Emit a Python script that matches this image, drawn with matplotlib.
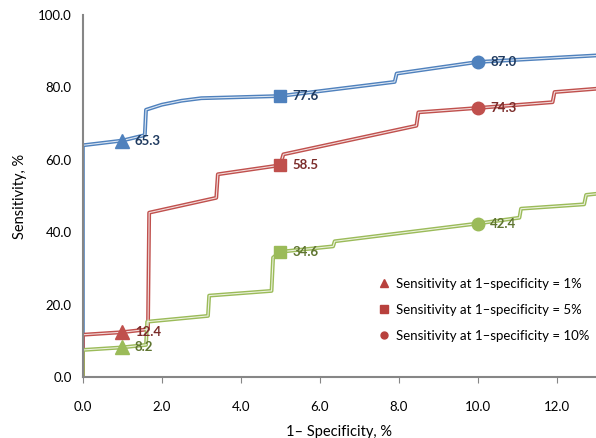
import matplotlib.pyplot as plt
from matplotlib.lines import Line2D

plt.rcParams['font.family'] = ['Lato', 'DejaVu Sans']

# ROC curves (partial, 1-specificity 0..13 %)
blue_x = [0, 0, 1, 1.57, 1.6, 2.0, 2.5, 3.0, 5.0, 7.9, 7.95, 10.0, 13.0]
blue_y = [0, 64.0, 65.3, 66.8, 73.8, 75.2, 76.3, 77.0, 77.6, 81.5, 83.8, 87.0, 88.8]

red_x = [0, 0, 1, 1.65, 1.68, 3.38, 3.42, 5.0, 5.08, 8.45, 8.5, 10.0, 11.9, 11.95, 13.0]
red_y = [0, 11.7, 12.4, 13.2, 45.4, 49.5, 56.0, 58.5, 61.5, 69.4, 73.1, 74.3, 75.9, 78.7, 79.6]

green_x = [0, 0, 1, 1.6, 1.63, 3.17, 3.2, 4.78, 4.82, 5.0, 6.34, 6.38, 10.0, 11.06, 11.1, 12.7, 12.75, 13.0]
green_y = [0, 7.5, 8.2, 8.9, 15.3, 16.9, 22.5, 23.8, 33.0, 34.6, 36.1, 37.5, 42.4, 44.0, 46.5, 47.7, 50.3, 50.6]

# sensitivity at 1-specificity = 1%, 5%, 10%
cut_x = [1, 5, 10]
blue_pts = [65.3, 77.6, 87.0]
red_pts = [12.4, 58.5, 74.3]
green_pts = [8.2, 34.6, 42.4]
markers = ['^', 's', 'o']
legend_labels = ['Sensitivity at 1\u2013specificity = 1%',
                 'Sensitivity at 1\u2013specificity = 5%',
                 'Sensitivity at 1\u2013specificity = 10%']

series = [
    (blue_x, blue_y, blue_pts, '#4F81BD', '#DCE6F2', '#1F3A5F'),
    (red_x, red_y, red_pts, '#C0504D', '#F2DCDB', '#7B2C2A'),
    (green_x, green_y, green_pts, '#9BBB59', '#EBF1DE', '#5F7530'),
]

fig = plt.figure(figsize=(5.96, 4.38), dpi=100)
ax = fig.add_axes([0.139, 0.139, 0.861, 0.827])

for xs, ys, pts, col, light, dark in series:
    ax.plot(xs, ys, color=col, lw=2.8, solid_joinstyle='round', zorder=2)
    ax.plot(xs, ys, color=light, lw=0.8, solid_joinstyle='round', zorder=3)
    for cx, v, m in zip(cut_x, pts, markers):
        ms = 10.5 if m == '^' else 9
        ax.plot(cx, v, marker=m, color=col, markersize=ms, ls='none', zorder=4)
        ax.annotate(f'{v:.1f}', (cx, v), xytext=(9, 0), textcoords='offset points',
                    va='center', ha='left', fontsize=9.5, fontweight='bold',
                    color=dark, zorder=5)

ax.set_xlim(0, 13)
ax.set_ylim(0, 100)
ax.set_xticks([0, 2, 4, 6, 8, 10, 12])
ax.set_yticks([0, 20, 40, 60, 80, 100])
ax.xaxis.set_major_formatter(plt.FormatStrFormatter('%.1f'))
ax.yaxis.set_major_formatter(plt.FormatStrFormatter('%.1f'))
ax.tick_params(axis='x', direction='out', length=4, color='#868686', labelsize=9.5, pad=13)
ax.tick_params(axis='y', length=0, labelsize=9.5, pad=8)
for s in ['top', 'right']:
    ax.spines[s].set_visible(False)
for s in ['left', 'bottom']:
    ax.spines[s].set_color('#868686')
    ax.spines[s].set_linewidth(1.5)
    ax.spines[s].set_zorder(6)
ax.set_xlabel('1\u2013 Specificity, %', fontsize=10.5, labelpad=9)
ax.set_ylabel('Sensitivity, %', fontsize=10.5, labelpad=8)

handles = [Line2D([], [], marker=m, color='#B8413D', ls='none', markersize=6 if m != 'o' else 5)
           for m in markers]
ax.legend(handles, legend_labels, loc='lower right', bbox_to_anchor=(1.01, 0.065),
          frameon=False, fontsize=9.5, handletextpad=0.4, labelspacing=1.05,
          handlelength=1.0)

fig.savefig('out.png', dpi=100)
